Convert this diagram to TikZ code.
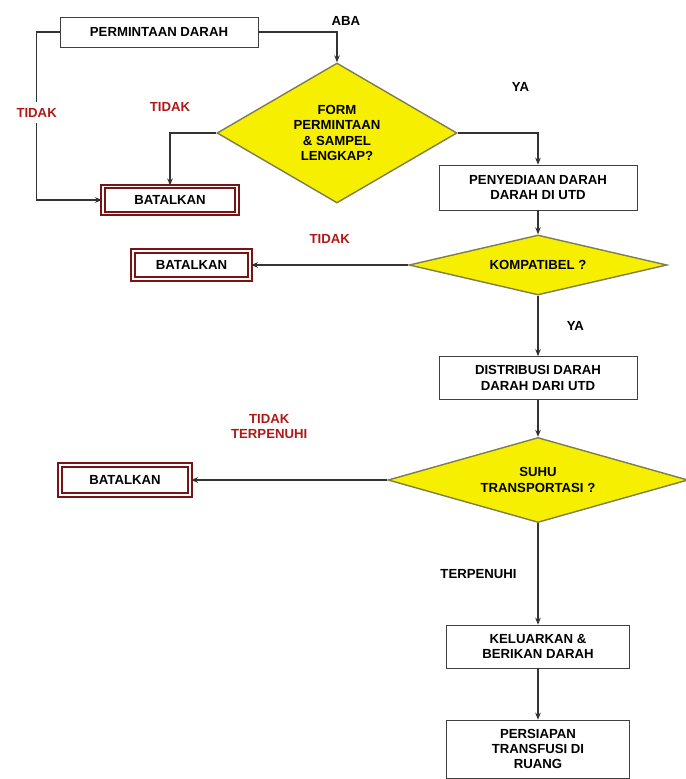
\documentclass[tikz,border=0pt]{standalone}
\usepackage{fontspec}
\setmainfont{Liberation Sans}
\usepackage{xcolor}
\usepackage{tikz}
\usetikzlibrary{shapes.geometric,arrows.meta}

\definecolor{tidakred}{HTML}{B01818}
\definecolor{batalred}{HTML}{7A1414}
\definecolor{dmdyellow}{HTML}{F6F000}
\definecolor{dmdline}{HTML}{7D7D50}

\begin{document}
\begin{tikzpicture}[>={Stealth[length=4pt,width=3.2pt]}, font=\bfseries\fontsize{7.5}{8.6}\selectfont,
  box/.style={draw=black!75, align=center, minimum height=8mm, minimum width=39.6mm, inner sep=2pt},
  dec/.style={draw=dmdline, fill=dmdyellow, thick, diamond, align=center, inner sep=0pt},
  batal/.style={draw=batalred, double=white, double distance=0.9pt, line width=1.2pt, minimum width=26mm, minimum height=5.4mm, inner sep=1pt},
  flow/.style={->, draw=black!80, line width=0.6pt},
  tdk/.style={text=tidakred}]
\useasboundingbox (0,0) rectangle (13.72,-15.58);
\node[box]   (req)    at (3.18,-0.64)   [minimum height=6mm]{PERMINTAAN DARAH};
\node[dec]   (cek)    at (6.74,-2.66)   [minimum width=48mm, minimum height=28mm, aspect=1.7]{FORM\\PERMINTAAN\\\& SAMPEL\\LENGKAP?};
\node[batal] (cancel1) at (3.40,-4.00)  [minimum width=26.8mm]{BATALKAN};
\node[box]   (prov)   at (10.76,-3.75)  [minimum height=9mm]{PENYEDIAAN DARAH\\DARAH DI UTD};
\node[dec]   (kom)    at (10.76,-5.30)  [minimum width=51.6mm, minimum height=12mm, aspect=4.3]{KOMPATIBEL ?};
\node[batal] (cancel2) at (3.83,-5.30)  [minimum width=23.4mm, minimum height=5.6mm]{BATALKAN};
\node[box]   (dist)   at (10.76,-7.56)  [minimum height=8.6mm]{DISTRIBUSI DARAH\\DARAH DARI UTD};
\node[dec]   (suhu)   at (10.76,-9.60)  [minimum width=60mm, minimum height=17mm, aspect=3.5]{SUHU\\TRANSPORTASI ?};
\node[batal] (cancel3) at (2.50,-9.60)  [minimum width=26mm, minimum height=6mm]{BATALKAN};
\node[box]   (kel)    at (10.76,-12.93) [minimum width=36.6mm, minimum height=8.6mm]{KELUARKAN \&\\BERIKAN DARAH};
\node[box]   (prep)   at (10.76,-14.98) [minimum width=36.6mm, minimum height=11.6mm]{PERSIAPAN\\TRANSFUSI DI\\RUANG};


\draw[flow] (req.east) -| node[pos=0.5, above, xshift=5pt]{ABA} (cek.north);
\draw[flow] (req.west) -- ++(-0.46,0) |- node[pos=0.24, tdk, fill=white]{TIDAK} (cancel1.west);
\draw[flow] (cek.west) -| node[pos=0.5, tdk, above=0.3cm]{TIDAK} (cancel1.north);
\draw[flow] (cek.east) -| node[pos=0.5, above=0.7cm, xshift=-0.35cm]{YA} (prov.north);
\draw[flow] (prov.south) -- (kom.north);
\draw[flow] (kom.west) -- node[tdk, above=0.3cm]{TIDAK} (cancel2.east);
\draw[flow] (kom.south) -- node[right=0.45cm]{YA} (dist.north);
\draw[flow] (dist.south) -- (suhu.north);
\draw[flow] (suhu.west) -- node[tdk, above=0.7cm, xshift=-0.4cm, align=center]{TIDAK\\TERPENUHI} (cancel3.east);
\draw[flow] (suhu.south) -- node[left=0.3cm]{TERPENUHI} (kel.north);
\draw[flow] (kel.south) -- (prep.north);
\end{tikzpicture}
\end{document}
